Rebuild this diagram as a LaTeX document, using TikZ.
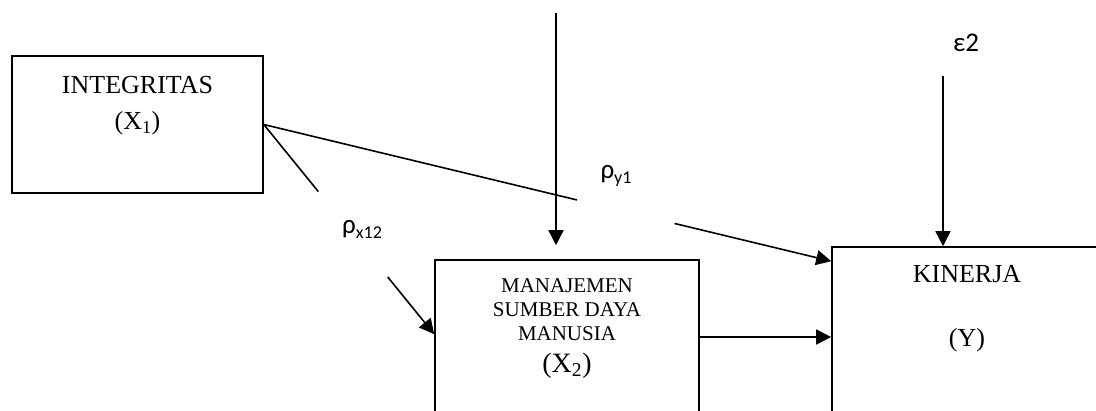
\documentclass[tikz,border=0pt]{standalone}
\usepackage{fontspec}
\setmainfont{Liberation Serif}
\newfontfamily\labelfont{Carlito}
\usetikzlibrary{arrows.meta, calc}
\tikzset{
  box/.style={rectangle, draw=black, line width=1.6pt, inner sep=0pt},
  boxtext/.style={align=center, inner sep=0pt, anchor=north},
  coef/.style={font=\labelfont\fontsize{27}{27}\selectfont, inner sep=0pt},
  link/.style={line width=1.6pt},
  arrow/.style={line width=1.6pt, -{Triangle[length=15pt, width=15pt]}}
}
\newcommand{\coefsub}[1]{\raisebox{-5pt}{\fontsize{18}{18}\selectfont #1}}

\begin{document}
\begin{tikzpicture}[x=1pt, y=-1pt]
  \clip (0,0) rectangle (1096,410);

  % kotak variabel
  \node[box, minimum width=251pt, minimum height=137pt] (integ) at (137.5,124.5) {};
  \node[box, minimum width=264pt, minimum height=154pt] (msdm) at (567,337) {};
  \node[box, minimum width=300pt, minimum height=180pt] (kin) at (982,337) {};

  \node[boxtext, font=\fontsize{26}{36}\selectfont] (integtxt) at (137.5,76) {INTEGRITAS\\(X\textsubscript{1})};
  \node[boxtext, font=\fontsize{21}{24}\selectfont] (msdmtxt) at (567,278) {MANAJEMEN\\SUMBER DAYA\\MANUSIA\\[8pt]{\fontsize{28}{28}\selectfont (X\textsubscript{2})}};
  \node[boxtext, font=\fontsize{26}{36}\selectfont] (kintxt) at (967,265) {KINERJA\\[28pt](Y)};

  % koefisien jalur
  \node[coef] (py1) at (616,176) {ρ\coefsub{y1}};
  \node[coef] (px12) at (362,229) {ρ\coefsub{x12}};
  \node[coef] (eps) at (966,43) {ε2};

  % panah
  \coordinate (top1) at (556,13);
  \coordinate (top2) at (943,76);
  \path (integ.east) -- ($(kin.north west)+(0,15)$) coordinate[pos=0.552] (gapa) coordinate[pos=0.724] (gapb);
  \path (integ.east) -- ($(msdm.north west)+(0,75)$) coordinate[pos=0.32] (gapc) coordinate[pos=0.727] (gapd);

  \draw[link] (integ.east) -- (gapa);
  \draw[arrow] (gapb) -- ($(kin.north west)+(0,15)$);
  \draw[link] (integ.east) -- (gapc);
  \draw[arrow] (gapd) -- ($(msdm.north west)+(0,75)$);
  \draw[arrow] (msdm.east) -- (kin.west);
  \draw[arrow, shorten >=14pt] (top1) -- (top1 |- msdm.north);
  \draw[arrow] (top2) -- (top2 |- kin.north);

\end{tikzpicture}
\end{document}
